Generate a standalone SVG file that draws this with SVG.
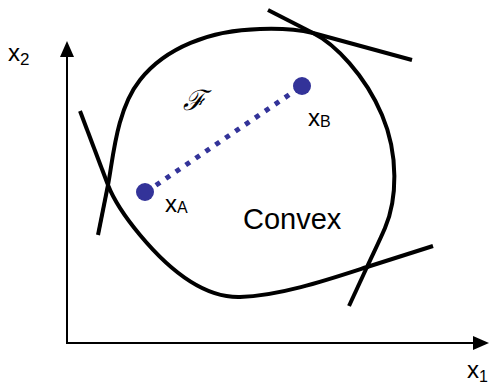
<svg xmlns="http://www.w3.org/2000/svg" width="492" height="384" viewBox="0 0 492 384">
  <style>
    .ink { fill: none; stroke: #000; stroke-width: 4; }
    .axis { fill: none; stroke: #000; stroke-width: 2; }
    .lbl { font-family: "Liberation Sans", Arial, sans-serif; fill: #000; }
    .pt { fill: #333399; }
  </style>
  <rect width="492" height="384" fill="#fff"/>
  <g id="axes">
    <line class="axis" x1="67" y1="344" x2="67" y2="55"/>
    <polygon points="67,41 60,57 74,57" fill="#000"/>
    <line class="axis" x1="66" y1="343" x2="475" y2="343"/>
    <polygon points="489,343 473,336 473,350" fill="#000"/>
    <text class="lbl" x="8" y="61" font-size="24">x<tspan font-size="17" dy="4">2</tspan></text>
    <text class="lbl" x="467" y="378" font-size="24">x<tspan font-size="16" dy="4">1</tspan></text>
  </g>
  <g id="region">
    <path class="ink" d="M108,185 C113,160 116,110 140,80 C165,48 210,30 260,29 C285,28 300,30 313,33 C335,44 365,75 382,115 C399,155 397,200 385,228 C379,242 372,256 367,267 C330,279 280,296 240,297 C200,298 165,265 140,235 C125,217 113,198 108,185 Z"/>
    <text x="183" y="110" font-size="28" font-family="DejaVu Serif, serif" font-style="italic">ℱ</text>
    <text class="lbl" x="243" y="229" font-size="29">Convex</text>
  </g>
  <g id="tangents">
    <line class="ink" x1="268" y1="10" x2="313" y2="33"/>
    <line class="ink" x1="313" y1="33" x2="412" y2="60"/>
    <line class="ink" x1="80" y1="111" x2="108" y2="185"/>
    <line class="ink" x1="98" y1="235" x2="108" y2="185"/>
    <line class="ink" x1="349" y1="306" x2="367" y2="267"/>
    <line class="ink" x1="367" y1="267" x2="433" y2="246"/>
  </g>
  <g id="connectors">
    <line x1="146" y1="192" x2="302" y2="86" stroke="#333399" stroke-width="5" stroke-dasharray="5 7"/>
  </g>
  <g id="xA">
    <circle class="pt" cx="145" cy="192" r="9"/>
    <text class="lbl" x="165" y="212" font-size="24">x<tspan font-size="16" dy="1">A</tspan></text>
  </g>
  <g id="xB">
    <circle class="pt" cx="302" cy="86" r="9"/>
    <text class="lbl" x="308" y="126" font-size="24">x<tspan font-size="16" dy="1">B</tspan></text>
  </g>
</svg>
